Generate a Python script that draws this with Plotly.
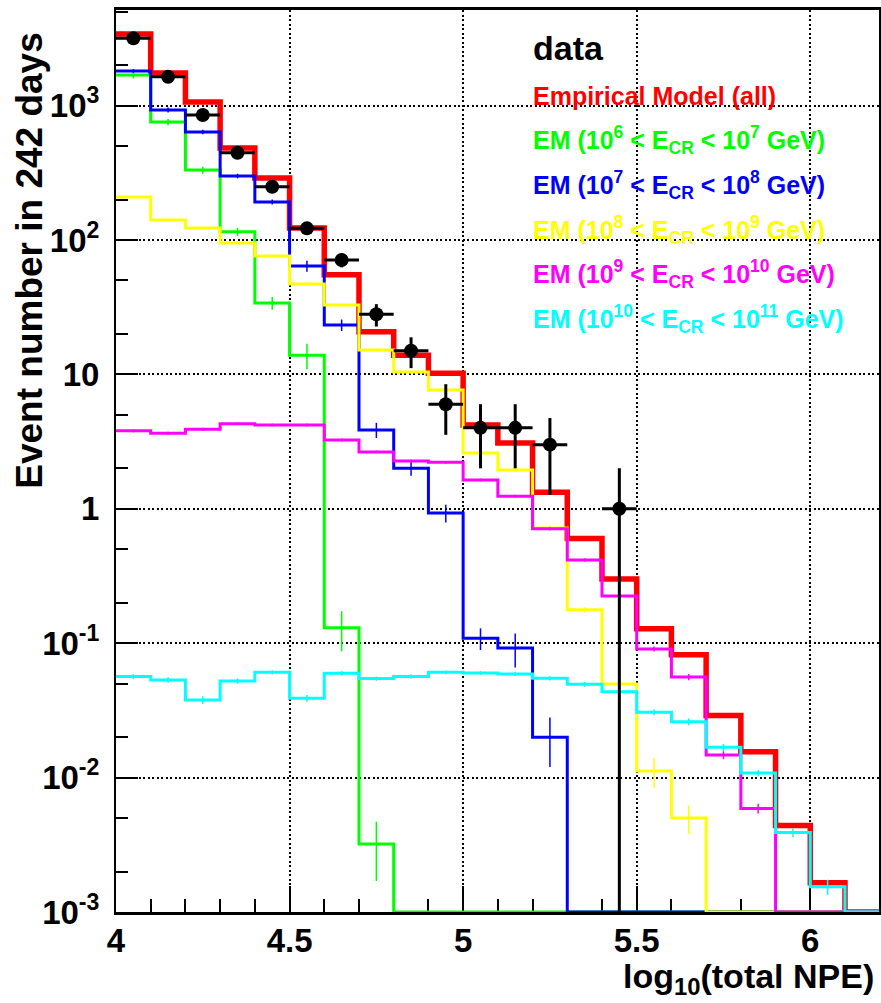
import numpy as np
import plotly.graph_objects as go

# ---- binning: log10(total NPE) from 4.0 to 6.2 in steps of 0.1 ----
BIN_LO = 4.0
BIN_WIDTH = 0.1
N_BINS = 22
Y_FLOOR = 1e-3  # lower edge of the y axis; empty bins are drawn here

# ---- observed events (242 days), first 15 bins; later bins are empty ----
data_counts = [3170, 1640, 851, 446, 249, 122, 71, 28, 15, 6, 4, 4, 3, 0, 1]

# ---- empirical model, total and split by primary cosmic-ray energy ----
em_all = [3410, 1750, 1064, 484, 289, 123, 55, 20.8, 13.9, 10.2, 4.2, 3.09,
          1.33, 0.6, 0.3, 0.128, 0.082, 0.029, 0.0156, 0.0044, 0.00165, 0]

em_e6_e7 = [1690, 755, 331, 115, 34, 13.9, 0.13, 0.0032, 0, 0, 0, 0,
            0, 0, 0, 0, 0, 0, 0, 0, 0, 0]
em_e6_e7_err = [100, 40, 20, 8, 3.7, 3.0, 0.043, 0.0015, 0, 0, 0, 0,
                0, 0, 0, 0, 0, 0, 0, 0, 0, 0]

em_e7_e8 = [1808, 927, 636, 299, 192, 64, 23.3, 3.86, 2.0, 0.93, 0.109, 0.092,
            0.020, 0, 0, 0, 0, 0, 0, 0, 0, 0]
em_e7_e8_err = [60, 40, 25, 12, 8, 6, 2.3, 0.5, 0.24, 0.14, 0.02, 0.026,
                0.008, 0, 0, 0, 0, 0, 0, 0, 0, 0]

em_e8_e9 = [209, 141, 123, 95, 76, 47, 32.8, 15.2, 10.4, 7.66, 2.6, 1.94,
            0.72, 0.177, 0.0497, 0.0112, 0.0050, 0, 0, 0, 0, 0]
em_e8_e9_err = [3, 2, 2, 1.5, 1.5, 1, 0.8, 0.4, 0.3, 0.2, 0.08, 0.06,
                0.03, 0.008, 0.002, 0.0028, 0.0012, 0, 0, 0, 0, 0]

em_e9_e10 = [3.8, 3.65, 3.9, 4.3, 4.2, 4.2, 3.25, 2.65, 2.27, 2.22, 1.64, 1.24,
             0.71, 0.416, 0.224, 0.0906, 0.056, 0.0147, 0.0059, 0, 0, 0]
em_e9_e10_err = [0.1, 0.1, 0.1, 0.1, 0.1, 0.1, 0.08, 0.06, 0.05, 0.05, 0.04, 0.03,
                 0.02, 0.012, 0.008, 0.004, 0.003, 0.001, 0.0005, 0, 0, 0]

em_e10_e11 = [0.0564, 0.0532, 0.0378, 0.0523, 0.0607, 0.0389, 0.0597, 0.0545,
              0.0564, 0.0607, 0.060, 0.059, 0.0548, 0.0494, 0.0436, 0.0306,
              0.026, 0.0168, 0.0108, 0.0039, 0.00154, 0]
em_e10_e11_err = [0.0025, 0.0025, 0.0025, 0.0025, 0.0022, 0.0022, 0.0022, 0.002,
                  0.002, 0.002, 0.002, 0.002, 0.002, 0.002, 0.002, 0.0015,
                  0.0015, 0.001, 0.0006, 0.0003, 0.0002, 0]

y_tick_vals = [1e-3, 1e-2, 1e-1, 1, 10, 1e2, 1e3]
y_tick_text = ["10<sup>-3</sup>", "10<sup>-2</sup>", "10<sup>-1</sup>", "1", "10",
               "10<sup>2</sup>", "10<sup>3</sup>"]
x_tick_vals = [4, 4.5, 5, 5.5, 6]
x_tick_text = ["4", "4.5", "5", "5.5", "6"]

legend_entries = [
    ("data", "black", 34),
    ("Empirical Model (all)", "#ff0000", 25),
    ("EM (10<sup>6</sup> < E<sub>CR</sub> < 10<sup>7</sup> GeV)", "#00ff00", 25),
    ("EM (10<sup>7</sup> < E<sub>CR</sub> < 10<sup>8</sup> GeV)", "#0000ff", 25),
    ("EM (10<sup>8</sup> < E<sub>CR</sub> < 10<sup>9</sup> GeV)", "#ffff00", 25),
    ("EM (10<sup>9</sup> < E<sub>CR</sub> < 10<sup>10</sup> GeV)", "#ff00ff", 25),
    ("EM (10<sup>10</sup> < E<sub>CR</sub> < 10<sup>11</sup> GeV)", "#00ffff", 25),
]

FONT = "Liberation Sans"

edges = np.round(BIN_LO + BIN_WIDTH * np.arange(N_BINS + 1), 3)
centers = np.round(edges[:-1] + BIN_WIDTH / 2, 3)

fig = go.Figure()


def add_hist(values, color, width, errors=None):
    vals = np.asarray(values, dtype=float)
    shown = np.where(vals > 0, vals, Y_FLOOR)
    # step outline: one point per left edge, plus the closing right edge
    fig.add_trace(go.Scatter(
        x=edges, y=np.append(shown, shown[-1]),
        mode="lines", line=dict(color=color, width=width, shape="hv"),
        showlegend=False, hoverinfo="skip"))
    if errors is not None:
        err = np.asarray(errors, dtype=float)
        keep = vals > 0
        fig.add_trace(go.Scatter(
            x=centers[keep], y=vals[keep], mode="markers",
            marker=dict(size=1, color=color),
            error_y=dict(type="data", array=err[keep], color=color,
                         thickness=1.5, width=0),
            showlegend=False, hoverinfo="skip"))


add_hist(em_all, "#ff0000", 5.5)
add_hist(em_e6_e7, "#00ff00", 3, em_e6_e7_err)
add_hist(em_e7_e8, "#0000ff", 3, em_e7_e8_err)
add_hist(em_e8_e9, "#ffff00", 3, em_e8_e9_err)
add_hist(em_e9_e10, "#ff00ff", 3, em_e9_e10_err)
add_hist(em_e10_e11, "#00ffff", 3, em_e10_e11_err)

# observed points with Poisson errors and bin-width bars
counts = np.asarray(data_counts, dtype=float)
nz = counts > 0
fig.add_trace(go.Scatter(
    x=centers[:len(counts)][nz], y=counts[nz], mode="markers",
    marker=dict(color="black", size=14, symbol="circle"),
    error_y=dict(type="data", array=np.sqrt(counts[nz]), color="black",
                 thickness=3, width=0),
    error_x=dict(type="constant", value=BIN_WIDTH / 2, color="black",
                 thickness=3, width=0),
    showlegend=False, hoverinfo="skip"))

tick_font = dict(family=FONT, size=33, color="black", weight="bold")

fig.update_layout(
    width=881, height=1003,
    margin=dict(l=116, r=0, t=10, b=91),
    paper_bgcolor="white", plot_bgcolor="white",
    showlegend=False,
    xaxis=dict(
        range=[BIN_LO, 6.198],
        tickmode="array", tickvals=x_tick_vals, ticktext=x_tick_text,
        ticks="inside", ticklen=26, tickwidth=1.5, tickcolor="black",
        tickfont=tick_font, ticklabelstandoff=-3,
        minor=dict(tick0=BIN_LO, dtick=BIN_WIDTH, ticks="inside", ticklen=13,
                   tickwidth=1.5, tickcolor="black", showgrid=False),
        showgrid=True, gridcolor="black", gridwidth=1.5, griddash="2px,2.5px",
        showline=True, linecolor="black", linewidth=3, mirror=True,
        zeroline=False, layer="below traces",
    ),
    yaxis=dict(
        type="log", range=[-3, 3.711],
        tickmode="array", tickvals=y_tick_vals, ticktext=y_tick_text,
        ticks="inside", ticklen=22, tickwidth=1.5, tickcolor="black",
        tickfont=tick_font, ticklabelstandoff=8,
        minor=dict(ticks="inside", ticklen=12, tickwidth=1.5,
                   tickcolor="black", showgrid=False),
        showgrid=True, gridcolor="black", gridwidth=1.5, griddash="2px,2.5px",
        showline=True, linecolor="black", linewidth=2, mirror=True,
        zeroline=False, layer="below traces",
    ),
)

# axis titles
fig.add_annotation(
    text="Event number in 242 days", textangle=-90,
    xref="paper", yref="paper", x=(29 - 116) / 765, y=(912 - 30) / 902,
    xanchor="center", yanchor="top", showarrow=False,
    font=dict(family=FONT, size=37, color="black", weight="bold"))
fig.add_annotation(
    text="log<sub>10</sub>(total NPE)",
    xref="paper", yref="paper", x=0.996, y=(912 - 978) / 902,
    xanchor="right", yanchor="middle", showarrow=False,
    font=dict(family=FONT, size=34, color="black", weight="bold"))

# legend block (text only)
legend_y_px = [48, 96, 140.5, 185, 229.5, 274, 319]
for (label, color, size), ypx in zip(legend_entries, legend_y_px):
    fig.add_annotation(
        text=label, xref="paper", yref="paper",
        x=(532 - 116) / 765, y=(912 - ypx) / 902,
        xanchor="left", yanchor="middle", showarrow=False,
        font=dict(family=FONT, size=size, color=color, weight="bold"))

fig.write_html("out.html")
